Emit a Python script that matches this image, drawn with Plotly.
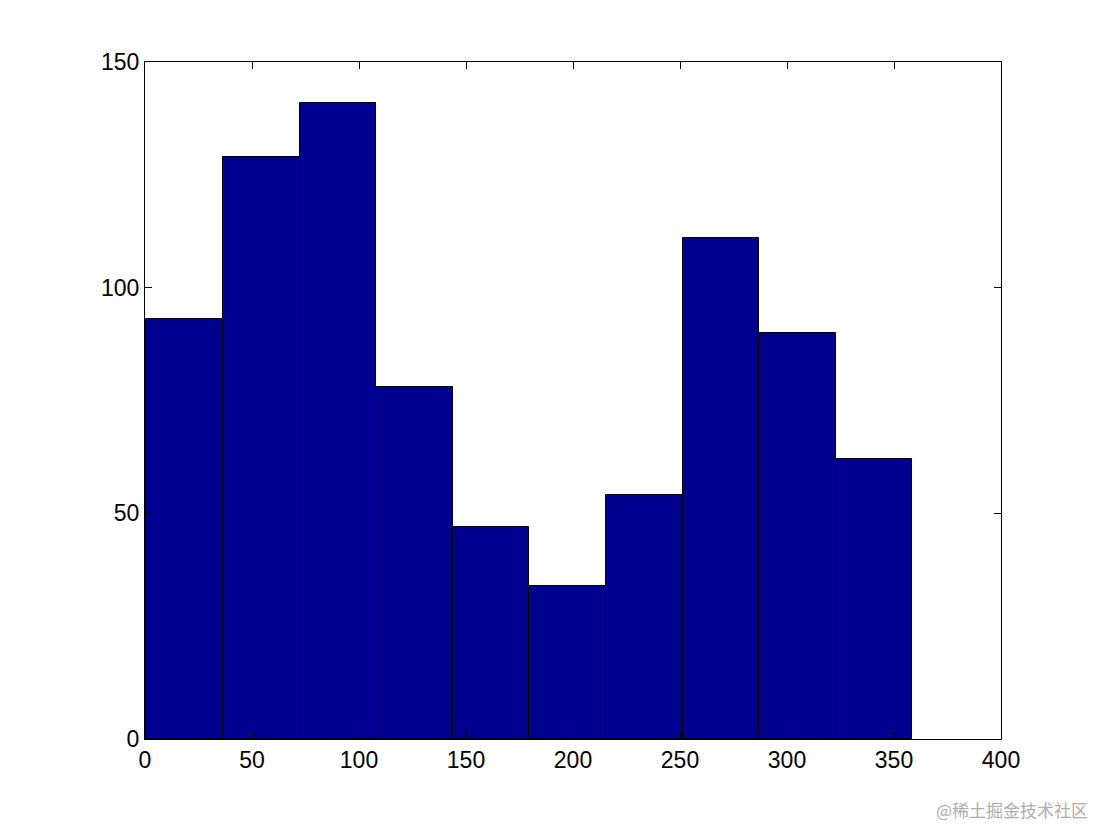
import plotly.graph_objects as go

# histogram bins (edges) and counts
bin_edges = [0.6, 36.4, 72.2, 108.0, 143.8, 179.6, 215.4, 251.2, 287.0, 322.8, 358.6]
counts = [93, 129, 141, 78, 47, 34, 54, 111, 90, 62]

x_ticks = [0, 50, 100, 150, 200, 250, 300, 350, 400]
y_ticks = [0, 50, 100, 150]

centres = [(a + b) / 2 for a, b in zip(bin_edges[:-1], bin_edges[1:])]
widths = [b - a for a, b in zip(bin_edges[:-1], bin_edges[1:])]

fig = go.Figure(
    go.Bar(
        x=centres,
        y=counts,
        width=widths,
        marker=dict(color="#00008F", line=dict(color="black", width=1)),
    )
)

axis_style = dict(
    showline=True,
    linecolor="black",
    linewidth=1,
    mirror="ticks",
    ticks="inside",
    ticklen=7,
    tickcolor="black",
    showgrid=False,
    zeroline=False,
    tickfont=dict(family="Liberation Sans, Arial", size=23, color="black"),
)

fig.update_layout(
    width=1092,
    height=816,
    margin=dict(l=137, r=99, t=54, b=85),
    paper_bgcolor="white",
    plot_bgcolor="white",
    showlegend=False,
    bargap=0,
    xaxis=dict(range=[0, 400], tickvals=x_ticks, **axis_style),
    yaxis=dict(range=[0, 150], tickvals=y_ticks, **axis_style),
    annotations=[
        dict(
            text="@稀土掘金技术社区",
            xref="paper", yref="paper",
            x=1.104, y=-0.104,
            xanchor="right", yanchor="middle",
            showarrow=False,
            font=dict(family="Noto Sans CJK SC", size=17, color="#ADADAD"),
        )
    ],
)

fig.write_html("out.html")
